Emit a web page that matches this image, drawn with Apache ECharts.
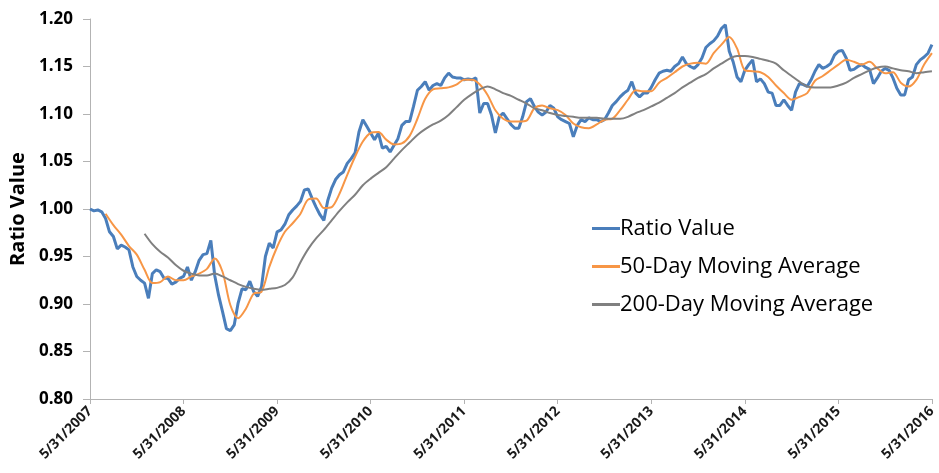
<!DOCTYPE html>
<html>
<head>
<meta charset="utf-8">
<script src="https://cdn.jsdelivr.net/npm/echarts@6/dist/echarts.min.js"></script>
<style>
html,body{margin:0;padding:0;background:#fff;}
#chart{width:939px;height:473px;}
</style>
</head>
<body>
<div id="chart"></div>
<script>
// X tick labels (one per year, 5/31)
const tickLabels = ['5/31/2007','5/31/2008','5/31/2009','5/31/2010','5/31/2011','5/31/2012','5/31/2013','5/31/2014','5/31/2015','5/31/2016'];
const seriesNames = ['Ratio Value','50-Day Moving Average','200-Day Moving Average'];

// Ratio Value: sampled twice a month starting 5/31/2007
const ratioValues = [
1.000,0.998,0.999,0.997,0.990,0.976,0.971,0.958,0.962,0.960,0.957,0.939,
0.929,0.925,0.922,0.906,0.932,0.936,0.934,0.927,0.927,0.921,0.923,0.927,
0.929,0.939,0.925,0.934,0.946,0.952,0.953,0.967,0.930,0.909,0.892,0.874,
0.872,0.878,0.901,0.916,0.915,0.924,0.913,0.908,0.918,0.950,0.964,0.959,
0.976,0.978,0.984,0.994,0.999,1.003,1.008,1.020,1.021,1.011,1.002,0.994,
0.988,1.009,1.022,1.031,1.036,1.039,1.048,1.053,1.059,1.081,1.094,1.087,
1.080,1.073,1.080,1.064,1.066,1.060,1.067,1.074,1.088,1.092,1.092,1.108,
1.125,1.129,1.134,1.125,1.130,1.132,1.130,1.138,1.143,1.139,1.138,1.138,
1.136,1.137,1.136,1.138,1.101,1.111,1.111,1.099,1.080,1.097,1.101,1.095,
1.089,1.085,1.085,1.097,1.113,1.116,1.108,1.102,1.099,1.102,1.109,1.106,
1.097,1.094,1.092,1.090,1.076,1.088,1.094,1.092,1.096,1.094,1.094,1.092,
1.094,1.101,1.109,1.113,1.118,1.122,1.125,1.134,1.122,1.118,1.122,1.122,
1.128,1.136,1.143,1.145,1.146,1.145,1.150,1.153,1.160,1.153,1.150,1.148,
1.152,1.159,1.170,1.174,1.177,1.182,1.190,1.194,1.166,1.155,1.139,1.134,
1.146,1.152,1.157,1.134,1.137,1.132,1.123,1.122,1.109,1.109,1.115,1.109,
1.104,1.123,1.132,1.131,1.129,1.136,1.145,1.152,1.148,1.150,1.153,1.162,
1.166,1.167,1.159,1.146,1.147,1.150,1.152,1.149,1.147,1.132,1.138,1.145,
1.148,1.146,1.138,1.127,1.120,1.120,1.136,1.139,1.152,1.157,1.160,1.164,
1.173
];

// 50-day moving average: monthly samples, first at month 2
const ma50Start = 2;
const ma50Values = [
0.995,0.983,0.973,0.961,0.952,0.936,0.922,0.923,0.929,0.925,
0.925,0.929,0.932,0.937,0.948,0.934,0.899,0.885,0.895,0.911,
0.913,0.939,0.960,0.976,0.985,0.995,1.010,1.011,1.001,1.002,
1.016,1.036,1.055,1.071,1.080,1.081,1.073,1.068,1.069,1.077,
1.095,1.116,1.126,1.127,1.128,1.131,1.136,1.136,1.131,1.120,
1.104,1.095,1.092,1.092,1.093,1.106,1.109,1.106,1.104,1.099,
1.090,1.086,1.085,1.089,1.094,1.095,1.104,1.115,1.125,1.124,
1.124,1.133,1.138,1.144,1.150,1.153,1.154,1.153,1.164,1.173,
1.181,1.169,1.146,1.145,1.144,1.139,1.130,1.122,1.115,1.118,
1.122,1.135,1.140,1.146,1.152,1.157,1.155,1.152,1.155,1.148,
1.143,1.144,1.133,1.129,1.136,1.152,1.164
];

// 200-day moving average: monthly samples, first at month 7
const ma200Start = 7;
const ma200Values = [
0.974,0.963,0.955,0.949,0.941,0.935,0.932,0.930,0.930,0.932,
0.929,0.925,0.921,0.918,0.916,0.915,0.916,0.917,0.920,0.928,
0.944,0.958,0.969,0.978,0.988,0.998,1.007,1.015,1.025,1.032,
1.038,1.044,1.053,1.062,1.070,1.078,1.084,1.089,1.093,1.099,
1.107,1.115,1.121,1.126,1.129,1.126,1.122,1.119,1.115,1.111,
1.106,1.104,1.101,1.099,1.098,1.097,1.096,1.096,1.096,1.095,
1.095,1.095,1.097,1.101,1.104,1.108,1.112,1.117,1.122,1.128,
1.133,1.138,1.142,1.148,1.153,1.158,1.161,1.161,1.160,1.158,
1.156,1.153,1.146,1.140,1.134,1.129,1.128,1.128,1.128,1.130,
1.133,1.138,1.142,1.146,1.149,1.150,1.148,1.146,1.145,1.143,
1.144,1.145
];

// build [yearsSinceStart, value] pairs
const ratioData = ratioValues.map((v, i) => [i / 24, v]);
const ma50Data = ma50Values.map((v, k) => [(k + ma50Start) / 12, v]);
const ma200Data = ma200Values.map((v, k) => [(k + ma200Start) / 12, v]);

const FONT = '"Open Sans", sans-serif';
const chart = echarts.init(document.getElementById('chart'), null, {renderer: 'canvas'});
chart.setOption({
  animation: false,
  backgroundColor: '#ffffff',
  grid: {left: 90, right: 4, top: 19, bottom: 74, containLabel: false},
  legend: {
    orient: 'vertical',
    left: 587,
    top: 212,
    itemWidth: 28,
    itemHeight: 3,
    itemGap: 15,
    icon: 'rect',
    data: seriesNames,
    textStyle: {fontFamily: FONT, fontSize: 22, color: '#000', lineHeight: 23, padding: [0,0,0,-5]}
  },
  xAxis: {
    type: 'value',
    min: 0, max: 9, interval: 1,
    splitLine: {show: false},
    axisLine: {lineStyle: {color: '#b3b3b3', width: 1}},
    axisTick: {show: true, length: 5, lineStyle: {color: '#b3b3b3'}},
    axisLabel: {
      rotate: 45, margin: 10,
      fontFamily: FONT, fontSize: 14, fontWeight: 'bold', color: '#1a1a1a',
      formatter: v => tickLabels[Math.round(v)] || ''
    }
  },
  yAxis: {
    type: 'value',
    min: 0.80, max: 1.20, interval: 0.05,
    name: 'Ratio Value',
    nameLocation: 'middle',
    nameGap: 61,
    nameTextStyle: {fontFamily: FONT, fontSize: 20, fontWeight: 'bold', color: '#000'},
    splitLine: {show: false},
    axisLine: {show: true, lineStyle: {color: '#b3b3b3', width: 1}},
    axisTick: {show: true, length: 7, lineStyle: {color: '#b3b3b3'}},
    axisLabel: {
      margin: 17,
      fontFamily: FONT, fontSize: 17, fontWeight: 'bold', color: '#000',
      formatter: v => v.toFixed(2)
    }
  },
  series: [
    {name: seriesNames[0], type: 'line', data: ratioData, showSymbol: false, symbol: 'none',
     lineStyle: {color: '#4a7ebb', width: 3}, itemStyle: {color: '#4a7ebb'}},
    {name: seriesNames[1], type: 'line', data: ma50Data, showSymbol: false, symbol: 'none', smooth: 0.3,
     lineStyle: {color: '#f79646', width: 2}, itemStyle: {color: '#f79646'}},
    {name: seriesNames[2], type: 'line', data: ma200Data, showSymbol: false, symbol: 'none', smooth: 0.3,
     lineStyle: {color: '#808080', width: 2}, itemStyle: {color: '#808080'}}
  ]
});
</script>
</body>
</html>
